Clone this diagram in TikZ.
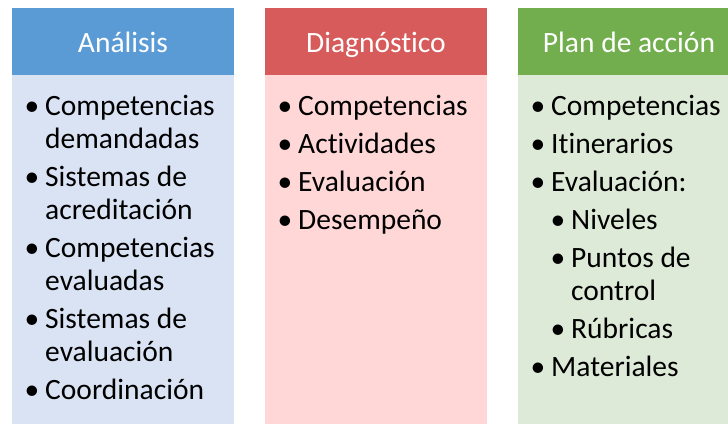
\documentclass[tikz,border=0pt]{standalone}
\usepackage{fontspec}
\setmainfont{Carlito}[Ligatures=NoCommon]
\usepackage{tikz}
\usetikzlibrary{calc}

\definecolor{anaHead}{HTML}{5B9BD5}
\definecolor{anaBody}{HTML}{DAE3F3}
\definecolor{diaHead}{HTML}{D75B5B}
\definecolor{diaBody}{HTML}{FFD7D7}
\definecolor{planHead}{HTML}{72AE4E}
\definecolor{planBody}{HTML}{DEEAD8}

\begin{document}
\begin{tikzpicture}[x=1pt, y=-1pt,
        head_style/.style={rectangle, draw=none, minimum width=222pt, minimum height=67pt, inner sep=0pt, anchor=north west},
        body_style/.style={rectangle, draw=none, minimum width=222pt, minimum height=360pt, inner sep=0pt, anchor=north west},
        title_style/.style={anchor=base, inner sep=0pt, text=white, font=\fontsize{29.5}{33}\selectfont},
        item_style/.style={anchor=base west, inner sep=0pt, font=\fontsize{29.5}{33}\selectfont},
        bullet_style/.style={anchor=base, inner sep=0pt, font=\fontsize{29.5}{33}\selectfont}]

        \path[use as bounding box, clip] (0,0) rectangle (728,423);

        % boxes
        \node [head_style, fill=anaHead] (h1) at (12,8) {};
        \node [body_style, fill=anaBody] (b1) at (12,75) {};
        \node [head_style, fill=diaHead] (h2) at (265,8) {};
        \node [body_style, fill=diaBody] (b2) at (265,75) {};
        \node [head_style, fill=planHead] (h3) at (518,8) {};
        \node [body_style, fill=planBody] (b3) at (518,75) {};

        % titles
        \node [title_style] (t1) at (123,52) {Análisis};
        \node [title_style] (t2) at (376,52) {Diagnóstico};
        \node [title_style] (t3) at (629,52) {Plan de acción};

        % Analisis
        \node [bullet_style] (ana_p1) at (32,115) {•};
        \node [item_style] (ana_1) at (45,115) {Competencias};
        \node [item_style] (ana_1b) at (45,148) {demandadas};
        \node [bullet_style] (ana_p2) at (32,186) {•};
        \node [item_style] (ana_2) at (45,186) {Sistemas de};
        \node [item_style] (ana_2b) at (45,219) {acreditación};
        \node [bullet_style] (ana_p3) at (32,257) {•};
        \node [item_style] (ana_3) at (45,257) {Competencias};
        \node [item_style] (ana_3b) at (45,290) {evaluadas};
        \node [bullet_style] (ana_p4) at (32,328) {•};
        \node [item_style] (ana_4) at (45,328) {Sistemas de};
        \node [item_style] (ana_4b) at (45,361) {evaluación};
        \node [bullet_style] (ana_p5) at (32,399) {•};
        \node [item_style] (ana_5) at (45,399) {Coordinación};

        % Diagnostico
        \node [bullet_style] (dia_p1) at (285,115) {•};
        \node [item_style] (dia_1) at (298,115) {Competencias};
        \node [bullet_style] (dia_p2) at (285,153) {•};
        \node [item_style] (dia_2) at (298,153) {Actividades};
        \node [bullet_style] (dia_p3) at (285,191) {•};
        \node [item_style] (dia_3) at (298,191) {Evaluación};
        \node [bullet_style] (dia_p4) at (285,229) {•};
        \node [item_style] (dia_4) at (298,229) {Desempeño};

        % Plan de accion
        \node [bullet_style] (plan_p1) at (538,115) {•};
        \node [item_style] (plan_1) at (551,115) {Competencias};
        \node [bullet_style] (plan_p2) at (538,153) {•};
        \node [item_style] (plan_2) at (551,153) {Itinerarios};
        \node [bullet_style] (plan_p3) at (538,191) {•};
        \node [item_style] (plan_3) at (551,191) {Evaluación:};
        \node [bullet_style] (plan_p31) at (558,229) {•};
        \node [item_style] (plan_31) at (571,229) {Niveles};
        \node [bullet_style] (plan_p32) at (558,267) {•};
        \node [item_style] (plan_32) at (571,267) {Puntos de};
        \node [item_style] (plan_32b) at (571,300) {control};
        \node [bullet_style] (plan_p33) at (558,338) {•};
        \node [item_style] (plan_33) at (571,338) {Rúbricas};
        \node [bullet_style] (plan_p4) at (538,376) {•};
        \node [item_style] (plan_4) at (551,376) {Materiales};
\end{tikzpicture}
\end{document}
